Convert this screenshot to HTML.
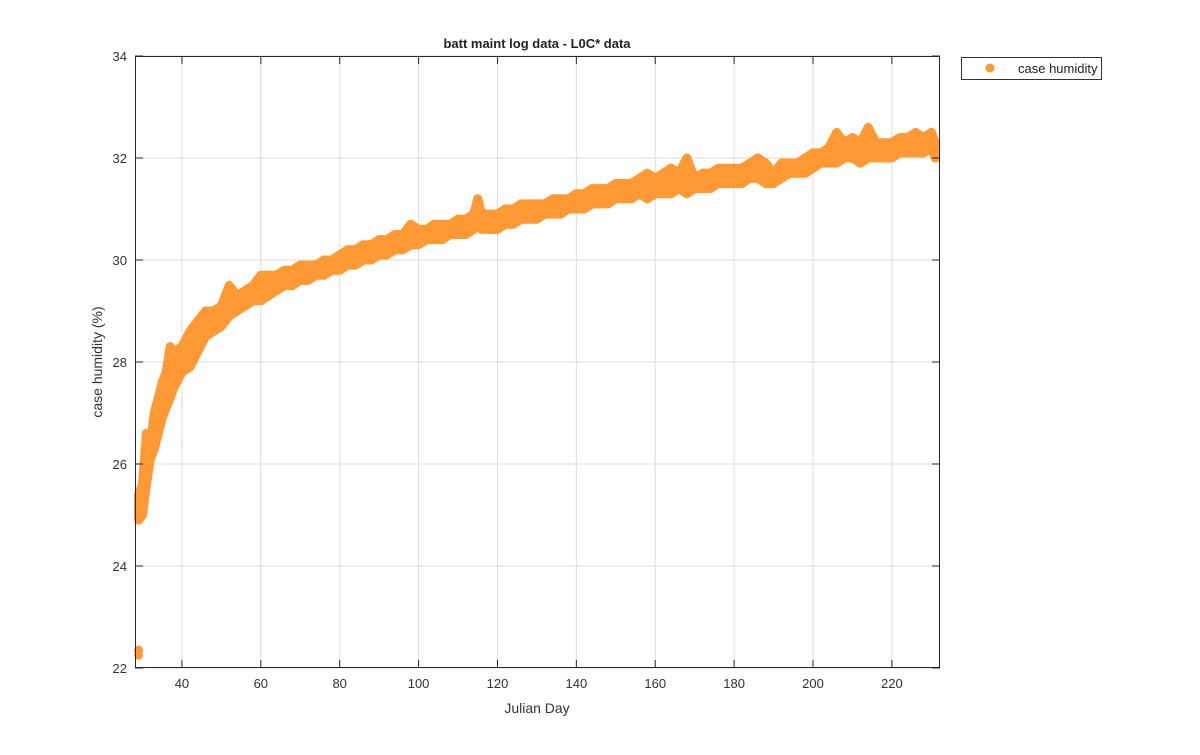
<!DOCTYPE html>
<html><head><meta charset="utf-8"><style>
body{margin:0;background:#fff;font-family:"Liberation Sans",Arial,sans-serif}
svg text{font-family:"Liberation Sans",Arial,sans-serif}
</style></head><body>
<svg id="chart" width="1200" height="750">
<rect width="1200" height="750" fill="#fff"/>
<g id="grid"></g>
<g id="marks"></g>
<g id="axes"></g>
<text x="537" y="48" font-size="13" font-weight="bold" text-anchor="middle" fill="#222">batt maint log data - L0C* data</text>
<text x="537" y="713" font-size="14" text-anchor="middle" fill="#333">Julian Day</text>
<text x="102" y="362" font-size="14" text-anchor="middle" fill="#333" transform="rotate(-90 102 362)">case humidity (%)</text>
<g>
<rect x="961.5" y="57.5" width="140" height="22" fill="#fff" stroke="#333"/>
<circle cx="990" cy="68" r="4.5" fill="#ff9933"/>
<text x="1018" y="73" font-size="13" fill="#222">case humidity</text>
</g>
</svg>
<script>
const days=[29,30,31,32,33,34,35,36,37,38,40,42,44,46,48,50,52,54,56,58,60,62,64,66,68,70,72,74,76,78,80,82,84,86,88,90,92,94,96,98,100,102,104,106,108,110,112,114,115,116,118,120,122,124,126,128,130,132,134,136,138,140,142,144,146,148,150,152,154,156,158,160,162,164,166,168,170,172,174,176,178,180,182,184,186,188,190,192,194,196,198,200,202,204,206,208,210,212,214,216,218,220,222,224,226,228,230,231];
const lows=[24.9,25.0,25.6,26.1,26.3,26.6,26.9,27.1,27.3,27.5,27.8,27.9,28.2,28.5,28.6,28.7,28.9,29.0,29.1,29.2,29.2,29.3,29.4,29.5,29.5,29.6,29.6,29.7,29.7,29.8,29.8,29.9,29.9,30.0,30.0,30.1,30.1,30.2,30.2,30.3,30.3,30.4,30.4,30.4,30.5,30.5,30.5,30.6,30.7,30.6,30.6,30.6,30.7,30.7,30.8,30.8,30.8,30.9,30.9,30.9,31.0,31.0,31.0,31.1,31.1,31.1,31.2,31.2,31.2,31.3,31.2,31.3,31.3,31.3,31.4,31.3,31.4,31.4,31.4,31.5,31.5,31.5,31.5,31.6,31.6,31.5,31.5,31.6,31.7,31.7,31.7,31.8,31.9,31.9,31.9,32.0,32.0,31.9,32.0,32.0,32.0,32.0,32.1,32.1,32.1,32.1,32.2,32.0];
const highs=[25.4,25.6,26.6,26.4,27.0,27.3,27.6,27.8,28.3,28.2,28.3,28.6,28.8,29.0,29.0,29.1,29.5,29.3,29.4,29.5,29.7,29.7,29.7,29.8,29.8,29.9,29.9,29.9,30.0,30.0,30.1,30.2,30.2,30.3,30.3,30.4,30.4,30.5,30.5,30.7,30.6,30.6,30.7,30.7,30.7,30.8,30.8,30.9,31.2,30.9,30.9,30.9,31.0,31.0,31.1,31.1,31.1,31.1,31.2,31.2,31.2,31.3,31.3,31.4,31.4,31.4,31.5,31.5,31.5,31.6,31.7,31.6,31.7,31.8,31.7,32.0,31.6,31.7,31.7,31.8,31.8,31.8,31.8,31.9,32.0,31.9,31.7,31.9,31.9,31.9,32.0,32.1,32.1,32.2,32.5,32.3,32.4,32.3,32.6,32.3,32.3,32.3,32.4,32.4,32.5,32.4,32.5,32.3];
const outlierDays=[29,29];
const outlierVals=[22.25,22.35];
const xTicks=[40,60,80,100,120,140,160,180,200,220];
const yTicks=[22,24,26,28,30,32,34];
const X0=135,X1=940,Y0=668,Y1=56,XMIN=28.1,XMAX=232.2,YMIN=22,YMAX=34;
const sx=v=>X0+(v-XMIN)/(XMAX-XMIN)*(X1-X0);
const sy=v=>Y0-(v-YMIN)/(YMAX-YMIN)*(Y0-Y1);
const NS='http://www.w3.org/2000/svg';
function mk(tag,attrs,parent){const e=document.createElementNS(NS,tag);for(const k in attrs)e.setAttribute(k,attrs[k]);parent.appendChild(e);return e;}
const grid=document.getElementById('grid'),axes=document.getElementById('axes'),marks=document.getElementById('marks');
xTicks.forEach(t=>{const x=sx(t);
 const g=mk('line',{x1:x,x2:x,y1:Y1,y2:Y0,stroke:'#dcdcdc','stroke-width':1},grid);
 
 
 mk('line',{x1:x,x2:x,y1:Y0,y2:Y0-8,stroke:'#262626'},axes);
 mk('line',{x1:x,x2:x,y1:Y1,y2:Y1+8,stroke:'#262626'},axes);
 const l=mk('text',{x:x,y:Y0+20,'font-size':13,'text-anchor':'middle',fill:'#333'},axes);l.textContent=t;
 
 
});
yTicks.forEach(t=>{const y=sy(t);
 const g=mk('line',{x1:X0,x2:X1,y1:y,y2:y,stroke:'#dcdcdc','stroke-width':1},grid);
 
 
 mk('line',{x1:X0,x2:X0+8,y1:y,y2:y,stroke:'#262626'},axes);
 mk('line',{x1:X1,x2:X1-8,y1:y,y2:y,stroke:'#262626'},axes);
 const l=mk('text',{x:X0-8,y:y+5,'font-size':13,'text-anchor':'end',fill:'#333'},axes);l.textContent=t;
 
 
});
const box=mk('rect',{x:X0+0.5,y:Y1+0.5,width:X1-X0-1,height:Y0-Y1-1,fill:'none',stroke:'#262626'},axes);


const C='#ff9933';
// band polygon
let pts=days.map((d,i)=>sx(d)+','+sy(highs[i])).concat(days.map((d,i)=>sx(d)+','+sy(lows[i])).reverse());
const band=mk('polygon',{points:pts.join(' '),fill:C,stroke:C,'stroke-width':9,'stroke-linejoin':'round'},marks);


days.forEach((d,i)=>{
 const m=mk('line',{x1:sx(d),x2:sx(d),y1:sy(lows[i]),y2:sy(highs[i]),stroke:C,'stroke-width':9,'stroke-linecap':'round'},marks);
 
 
});
outlierDays.forEach((d,i)=>{
 const c=mk('circle',{cx:sx(d),cy:sy(outlierVals[i]),r:4.5,fill:C},marks);
 
 
});
</script>
</body></html>
